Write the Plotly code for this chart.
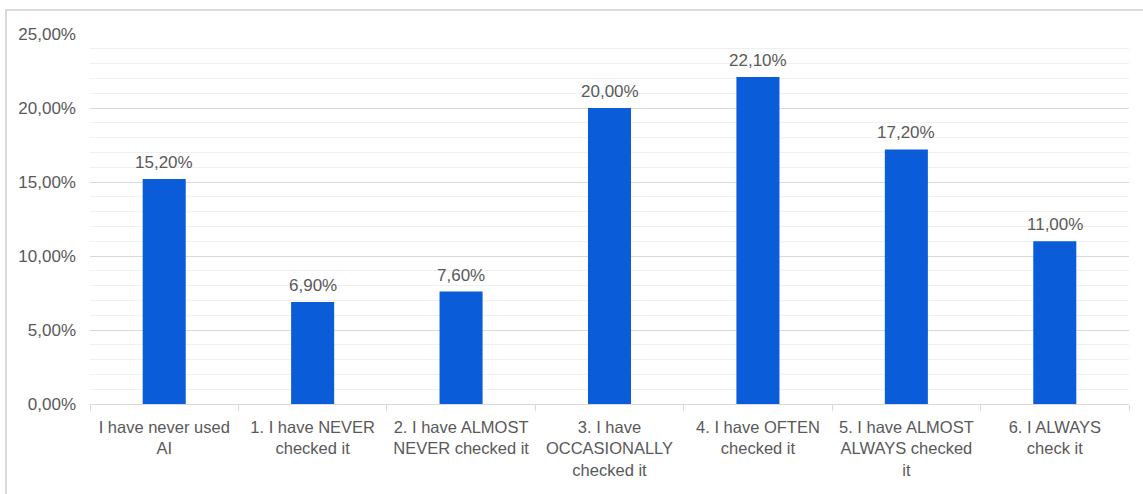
import plotly.graph_objects as go

categories = [
    "I have never used<br>AI",
    "1. I have NEVER<br>checked it",
    "2. I have ALMOST<br>NEVER checked it",
    "3. I have<br>OCCASIONALLY<br>checked it",
    "4. I have OFTEN<br>checked it",
    "5. I have ALMOST<br>ALWAYS checked<br>it",
    "6. I ALWAYS<br>check it",
]
values = [0.152, 0.069, 0.076, 0.200, 0.221, 0.172, 0.110]
tick_vals = [0, 0.05, 0.10, 0.15, 0.20, 0.25]

TEXT = "#595959"
BAR = "#0B5CD9"
FONT = "Liberation Sans, Arial, sans-serif"

fig = go.Figure()
fig.add_trace(go.Bar(
    x=categories, y=values, width=0.29,
    marker=dict(color=BAR, line=dict(width=0)),
    hoverinfo="skip",
))

for c, v in zip(categories, values):
    fig.add_annotation(
        x=c, y=v, text=f"{v*100:.2f}%".replace(".", ","),
        showarrow=False, yanchor="bottom", yshift=5,
        font=dict(family=FONT, size=17, color=TEXT),
    )

# chart border
fig.add_shape(type="rect", xref="paper", yref="paper",
              x0=-0.0808, x1=1.2, y0=-0.4, y1=1.0649,
              line=dict(color="#d9d9d9", width=2), fillcolor="rgba(0,0,0,0)",
              layer="below")

fig.update_layout(
    width=1143, height=494,
    margin=dict(l=90, r=14, t=34, b=90, autoexpand=False),
    paper_bgcolor="white", plot_bgcolor="white",
    separators=",.",
    showlegend=False,
    font=dict(family=FONT, size=17, color=TEXT),
    xaxis=dict(
        showgrid=False, showline=True, linecolor="#d9d9d9", linewidth=1,
        ticks="outside", tickson="boundaries", ticklen=6, tickcolor="#d9d9d9",
        tickangle=0, automargin=False, ticklabelstandoff=8,
        tickfont=dict(family=FONT, size=16.5, color=TEXT),
        fixedrange=True,
    ),
    yaxis=dict(
        range=[0, 0.25], tickvals=tick_vals, tickformat=".2%",
        showgrid=True, gridcolor="#d9d9d9", gridwidth=1,
        zeroline=False, showline=False, automargin=False,
        minor=dict(dtick=0.01, showgrid=True, gridcolor="#f0f0f0", gridwidth=1),
        ticklabelstandoff=13,
        tickfont=dict(family=FONT, size=17, color=TEXT),
        fixedrange=True,
    ),
)

fig.write_html("out.html")
